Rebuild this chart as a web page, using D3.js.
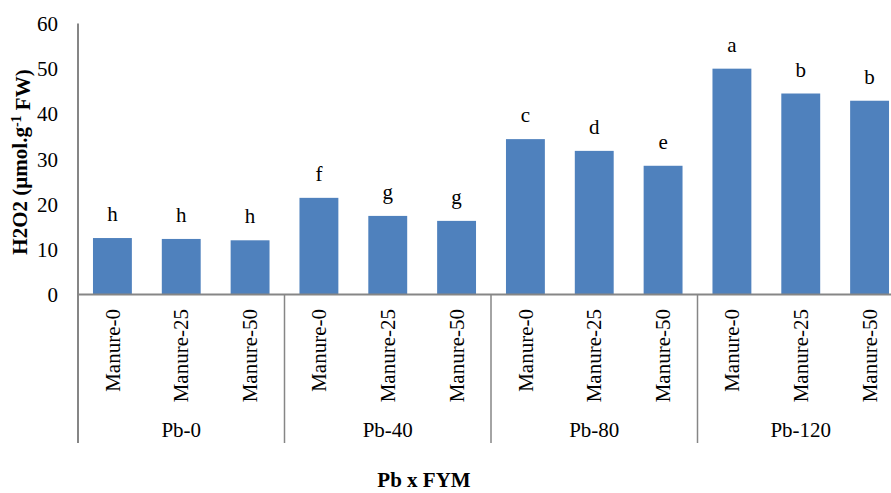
<!DOCTYPE html>
<html>
<head>
<meta charset="utf-8">
<script src="https://cdn.jsdelivr.net/npm/d3@7"></script>
<style>
  body { margin: 0; background: #fff; }
  svg text { font-family: "Liberation Serif", "Times New Roman", serif; fill: #000; }
</style>
</head>
<body>
<svg id="chart" width="891" height="493"></svg>
<script>
// data
var groups = ["Pb-0", "Pb-40", "Pb-80", "Pb-120"];
var manure = ["Manure-0", "Manure-25", "Manure-50"];
var h2o2 = [12.5, 12.3, 12.0, 21.4, 17.4, 16.3, 34.4, 31.8, 28.5, 50.0, 44.5, 42.9];
var letters = ["h", "h", "h", "f", "g", "g", "c", "d", "e", "a", "b", "b"];
var yTicks = [0, 10, 20, 30, 40, 50, 60];

var svg = d3.select("#chart");
var plotLeft = 78, plotRight = 904, plotTop = 23.5, base = 294.5, plotBottom = 443;
var fs = "21px";

// one entry per bar
var rows = [];
groups.forEach(function(g, gi) {
  manure.forEach(function(m, mi) {
    var i = gi * manure.length + mi;
    rows.push({ id: i, group: g, manure: m, value: h2o2[i], letter: letters[i] });
  });
});

var x = d3.scaleBand()
    .domain(rows.map(function(d) { return d.id; }))
    .range([plotLeft, plotRight])
    .paddingInner(0.435)
    .paddingOuter(0.2175);
var step = x.step();

var y = d3.scaleLinear().domain([0, 60]).range([base, plotTop]);

// Y axis (no tick marks)
var yAxis = svg.append("g")
    .attr("transform", "translate(" + plotLeft + ",0)")
    .call(d3.axisLeft(y).tickValues(yTicks).tickSize(0).tickPadding(20));
yAxis.select(".domain").remove();
yAxis.selectAll("text").style("font-size", fs).attr("dy", "0.34em")
    .style("font-family", "'Liberation Serif', serif");

// bars
svg.append("g").selectAll("rect")
  .data(rows)
  .enter().append("rect")
    .attr("x", function(d) { return x(d.id); })
    .attr("y", function(d) { return y(d.value); })
    .attr("width", x.bandwidth())
    .attr("height", function(d) { return base - y(d.value); })
    .attr("fill", "#4F81BD");

// significance letters
svg.append("g").selectAll("text")
  .data(rows)
  .enter().append("text")
    .attr("x", function(d) { return x(d.id) + x.bandwidth() / 2; })
    .attr("y", function(d) { return y(d.value) - 17; })
    .attr("text-anchor", "middle")
    .style("font-size", fs)
    .text(function(d) { return d.letter; });

// axis lines
var axisColor = "#868686";
svg.append("line")
    .attr("x1", plotLeft).attr("x2", plotLeft).attr("y1", plotTop).attr("y2", plotBottom)
    .attr("stroke", axisColor).attr("stroke-width", 2);
svg.append("line")
    .attr("x1", plotLeft).attr("x2", plotRight).attr("y1", base).attr("y2", base)
    .attr("stroke", axisColor).attr("stroke-width", 2);

// group separators
svg.append("g").selectAll("line")
  .data(groups.slice(1))
  .enter().append("line")
    .attr("x1", function(d, i) { return plotLeft + (i + 1) * manure.length * step; })
    .attr("x2", function(d, i) { return plotLeft + (i + 1) * manure.length * step; })
    .attr("y1", base).attr("y2", plotBottom)
    .attr("stroke", axisColor).attr("stroke-width", 1.5);

// category labels (rotated)
svg.append("g").selectAll("text")
  .data(rows)
  .enter().append("text")
    .attr("transform", function(d) {
      return "translate(" + (x(d.id) + x.bandwidth() / 2) + "," + 309 + ") rotate(-90)";
    })
    .attr("text-anchor", "end")
    .attr("dy", "0.34em")
    .style("font-size", fs)
    .text(function(d) { return d.manure; });

// group labels
svg.append("g").selectAll("text")
  .data(groups)
  .enter().append("text")
    .attr("x", function(d, i) { return plotLeft + (i + 0.5) * manure.length * step; })
    .attr("y", 437)
    .attr("text-anchor", "middle")
    .style("font-size", fs)
    .text(function(d) { return d; });

// axis titles
svg.append("text")
    .attr("x", 424).attr("y", 487)
    .attr("text-anchor", "middle")
    .style("font-size", fs).style("font-weight", "bold")
    .text("Pb x FYM");

var yt = svg.append("text")
    .attr("transform", "translate(27,162) rotate(-90)")
    .attr("text-anchor", "middle")
    .style("font-size", fs).style("font-weight", "bold");
yt.append("tspan").text("H2O2 (µmol.g");
yt.append("tspan").attr("dy", "-0.45em").style("font-size", "14px").text("-1");
yt.append("tspan").attr("dy", "0.45em").text(" FW)");
</script>
</body>
</html>
